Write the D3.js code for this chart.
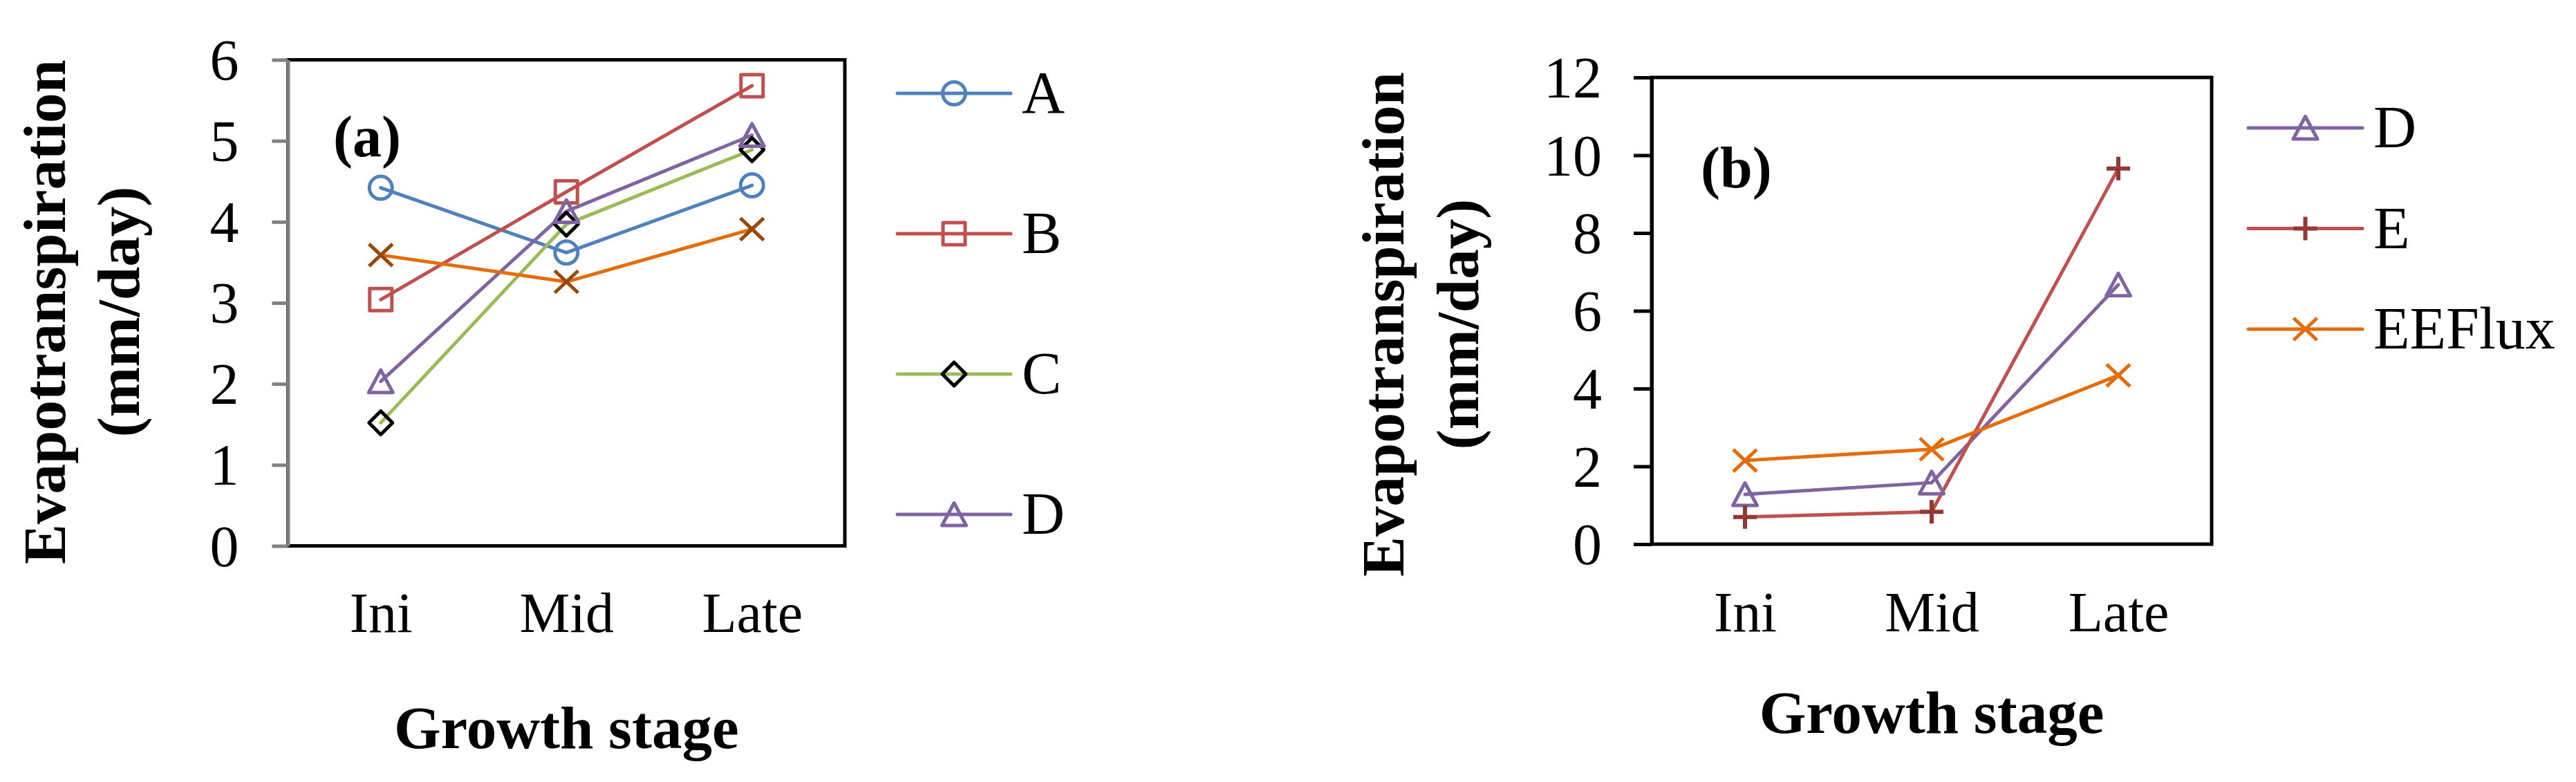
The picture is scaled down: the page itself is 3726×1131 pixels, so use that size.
<!DOCTYPE html>
<html><head><meta charset="utf-8">
<script src="https://cdn.jsdelivr.net/npm/d3@7"></script>
<style>
body{margin:0;background:#fff}
svg{display:block}
text{font-family:"Liberation Serif","Times New Roman",serif}
</style>
</head><body>
<svg id="chart" width="3726" height="1131"></svg>
<script>
// ---------- data ----------
const stages = ["Ini", "Mid", "Late"];

// panel (a)
const aTicks = [0, 1, 2, 3, 4, 5, 6];
const aSeriesNames = ["A", "B", "C", "D", "EEFlux"];
const aValuesA = [4.42, 3.62, 4.45];
const aValuesB = [3.04, 4.37, 5.68];
const aValuesC = [1.52, 3.97, 4.89];
const aValuesD = [2.03, 4.13, 5.07];
const aValuesEEFlux = [3.59, 3.26, 3.91];
const aLegendNames = ["A", "B", "C", "D"];

// panel (b)
const bTicks = [0, 2, 4, 6, 8, 10, 12];
const bSeriesNames = ["D", "E", "EEFlux"];
const bValuesD = [1.28, 1.58, 6.67];
const bValuesE = [0.70, 0.83, 9.66];
const bValuesEEFlux = [2.15, 2.44, 4.34];
const bLegendNames = ["D", "E", "EEFlux"];

const xTitle = "Growth stage";
const yTitle1 = "Evapotranspiration";
const yTitle2 = "(mm/day)";

// ---------- styles ----------
const styles = {
  A: {line: "#4F81BD", marker: "#4F81BD", shape: "circle"},
  B: {line: "#C0504D", marker: "#C0504D", shape: "square"},
  C: {line: "#9BBB59", marker: "#000000", shape: "diamond"},
  D: {line: "#8064A2", marker: "#8064A2", shape: "triangle"},
  E: {line: "#C0504D", marker: "#953735", shape: "plus"},
  EEFluxA: {line: "#E46C0A", marker: "#984807", shape: "x"},
  EEFluxB: {line: "#E46C0A", marker: "#E46C0A", shape: "x"}
};

function markerPath(shape) {
  switch (shape) {
    case "circle": return d3.symbol(d3.symbolCircle, Math.PI * 16.5 * 16.5)();
    case "square": return "M-16,-16H16V16H-16Z";
    case "diamond": return "M0,-17L17,0L0,17L-17,0Z";
    case "triangle": return "M0,-16.5L17.5,16L-17.5,16Z";
    case "x": return "M-17,-16L17,16M-17,16L17,-16";
    case "plus": return "M-17,0H17M0,-17V17";
  }
}

const svg = d3.select("#chart");

function drawPanel(cfg) {
  const g = svg.append("g");
  const x = d3.scalePoint().domain(stages).range([cfg.left, cfg.right]).padding(0.5);
  const y = d3.scaleLinear().domain([0, d3.max(cfg.ticks)]).range([cfg.bottom, cfg.top]);

  // plot border
  g.append("rect")
    .attr("x", cfg.left).attr("y", cfg.top)
    .attr("width", cfg.right - cfg.left).attr("height", cfg.bottom - cfg.top)
    .attr("fill", "none").attr("stroke", "#000").attr("stroke-width", 5);

  // y axis
  const ya = g.append("g").attr("transform", `translate(${cfg.left},0)`)
    .call(d3.axisLeft(y).tickValues(cfg.ticks).tickFormat(d3.format("d"))
      .tickSize(cfg.tickSize).tickSizeOuter(0).tickPadding(cfg.tickPad));
  ya.select(".domain").attr("stroke", cfg.axisColor).attr("stroke-width", 5);
  ya.selectAll(".tick line").attr("stroke", cfg.axisColor).attr("stroke-width", 5);
  ya.selectAll(".tick text").attr("font-family", "Liberation Serif, serif")
    .attr("font-size", 84).attr("fill", "#000").attr("dy", "0.34em");

  // x axis labels
  const xa = g.append("g").attr("transform", `translate(0,${cfg.bottom})`)
    .call(d3.axisBottom(x).tickSize(0).tickPadding(cfg.xPad));
  xa.select(".domain").remove();
  xa.selectAll(".tick text").attr("font-family", "Liberation Serif, serif")
    .attr("font-size", 82).attr("fill", "#000");

  // series
  const line = d3.line().x((d, i) => x(stages[i])).y(d => y(d));
  cfg.series.forEach(s => {
    const st = styles[s.style];
    g.append("path").datum(s.values)
      .attr("d", line).attr("fill", "none")
      .attr("stroke", st.line).attr("stroke-width", 5)
      .attr("stroke-linecap", "round").attr("stroke-linejoin", "round");
  });
  cfg.series.forEach(s => {
    const st = styles[s.style];
    g.selectAll(null).data(s.values).enter().append("path")
      .attr("transform", (d, i) => `translate(${x(stages[i])},${y(d)})`)
      .attr("d", markerPath(st.shape))
      .attr("fill", "none").attr("stroke", st.marker)
      .attr("stroke-width", st.shape === "plus" ? 6 : 5)
      .attr("stroke-linejoin", "round");
  });

  // panel label
  g.append("text").attr("x", cfg.tagX).attr("y", cfg.tagY)
    .attr("font-size", 84).attr("font-weight", "bold").text(cfg.tag);

  // axis titles
  g.append("text").attr("x", (cfg.left + cfg.right) / 2).attr("y", cfg.xTitleY)
    .attr("text-anchor", "middle").attr("font-size", 87).attr("font-weight", "bold").text(xTitle);
  [[yTitle1, cfg.yT1], [yTitle2, cfg.yT2]].forEach(([t, bx]) => {
    g.append("text").attr("x", bx).attr("y", cfg.yTitleC)
      .attr("transform", `rotate(-90,${bx},${cfg.yTitleC})`)
      .attr("text-anchor", "middle").attr("font-size", 87).attr("font-weight", "bold").text(t);
  });

  // legend
  const leg = g.append("g");
  cfg.legend.forEach((name, i) => {
    const s = cfg.series.find(d => d.name === name);
    const st = styles[s.style];
    const ly = cfg.legY0 + i * cfg.legStep;
    leg.append("line").attr("x1", cfg.legX0).attr("x2", cfg.legX1)
      .attr("y1", ly).attr("y2", ly).attr("stroke", st.line)
      .attr("stroke-width", 5).attr("stroke-linecap", "round");
    leg.append("path").attr("transform", `translate(${(cfg.legX0 + cfg.legX1) / 2},${ly})`)
      .attr("d", markerPath(st.shape)).attr("fill", "none").attr("stroke", st.marker)
      .attr("stroke-width", st.shape === "plus" ? 6 : 5).attr("stroke-linejoin", "round");
    leg.append("text").attr("x", cfg.legTextX).attr("y", ly).attr("dy", "0.33em")
      .attr("font-size", 86).text(name);
  });
}

drawPanel({
  left: 416.5, right: 1222, top: 86.5, bottom: 789.5,
  ticks: aTicks, tickSize: 23, tickPad: 48, axisColor: "#808080", xPad: 66,
  series: [
    {name: "A", values: aValuesA, style: "A"},
    {name: "B", values: aValuesB, style: "B"},
    {name: "C", values: aValuesC, style: "C"},
    {name: "D", values: aValuesD, style: "D"},
    {name: "EEFlux", values: aValuesEEFlux, style: "EEFluxA"}
  ],
  legend: aLegendNames,
  tag: "(a)", tagX: 482, tagY: 226,
  xTitleY: 1082, yTitleC: 451, yT1: 94, yT2: 201,
  legX0: 1298, legX1: 1462, legTextX: 1478, legY0: 135, legStep: 203
});

drawPanel({
  left: 2389, right: 3199, top: 112, bottom: 787,
  ticks: bTicks, tickSize: 26, tickPad: 46, axisColor: "#000000", xPad: 68,
  series: [
    {name: "D", values: bValuesD, style: "D"},
    {name: "E", values: bValuesE, style: "E"},
    {name: "EEFlux", values: bValuesEEFlux, style: "EEFluxB"}
  ],
  legend: bLegendNames,
  tag: "(b)", tagX: 2460, tagY: 271,
  xTitleY: 1060, yTitleC: 469, yT1: 2030, yT2: 2138,
  legX0: 3252, legX1: 3417, legTextX: 3433, legY0: 185, legStep: 145.5
});
</script>
</body></html>
